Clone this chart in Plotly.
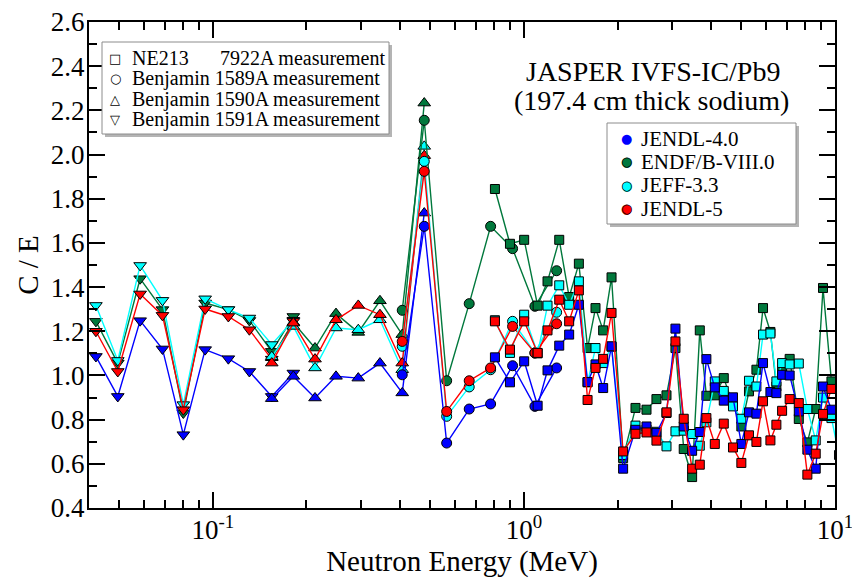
import plotly.graph_objects as go

# ---------------- data (C/E values) ----------------
libraries = ["JENDL-4.0", "ENDF/B-VIII.0", "JEFF-3.3", "JENDL-5"]
lib_colors = ["#0000ff", "#00783c", "#00ffff", "#ff0000"]

measurements = ["NE213      7922A measurement", "Benjamin 1589A measurement",
                "Benjamin 1590A measurement", "Benjamin 1591A measurement"]

# Benjamin 1591A (triangle-down)
e_1591 = [0.0421, 0.0495, 0.0584, 0.0689, 0.0804, 0.0945, 0.1122, 0.1311, 0.1547, 0.1815]
jendl4_1591 = [1.086, 0.905, 1.248, 1.120, 0.732, 1.117, 1.076, 1.018, 0.905, 1.011]
endf_1591 = [1.245, 1.056, 1.438, 1.298, 0.830, 1.328, 1.298, 1.249, 1.109, 1.267]
jeff_1591 = [1.317, 1.068, 1.498, 1.340, 0.868, 1.347, 1.298, 1.260, 1.140, 1.250]
jendl5_1591 = [1.200, 1.018, 1.369, 1.272, 0.845, 1.301, 1.267, 1.207, 1.074, 1.245]

# Benjamin 1590A (triangle-up)
e_1590 = [0.1547, 0.1815, 0.2131, 0.2489, 0.2935, 0.3446, 0.4064, 0.4783]
jendl4_1590 = [0.895, 0.996, 0.898, 0.996, 0.988, 1.056, 0.921, 1.735]
endf_1590 = [1.080, 1.240, 1.124, 1.280, 1.195, 1.338, 1.185, 2.233]
jeff_1590 = [1.085, 1.222, 1.034, 1.215, 1.207, 1.252, 1.026, 2.037]
jendl5_1590 = [1.056, 1.237, 1.074, 1.252, 1.317, 1.275, 1.056, 1.995]

# Benjamin 1589A (circle)
e_1589 = [0.4064, 0.4783, 0.5646, 0.6671, 0.7816, 0.9197, 1.085, 1.274]
jendl4_1589 = [1.003, 1.675, 0.694, 0.848, 0.871, 1.044, 0.860, 1.034]
endf_1589 = [1.295, 2.155, 0.976, 1.325, 1.675, 1.574, 1.313, 1.474]
jeff_1589 = [1.132, 1.969, 0.815, 0.948, 1.026, 1.245, 1.102, 1.286]
jendl5_1589 = [1.154, 1.924, 0.837, 0.976, 1.034, 1.222, 1.102, 1.234]

# NE213 7922A (square)
e_7922 = [0.807, 0.902, 1.002, 1.107, 1.191, 1.299, 1.398, 1.502, 1.602, 1.699,
          1.798, 1.913, 2.084, 2.284, 2.478, 2.667, 2.873, 3.07, 3.264, 3.473,
          3.676, 3.86, 4.108, 4.39, 4.70, 5.00, 5.29, 5.59, 5.87, 6.20,
          6.48, 6.76, 7.15, 7.65, 8.15, 8.67, 9.15, 9.74, 10.3]
jendl4_7922 = [1.082, 0.969, 1.064, 0.863, 1.023, 1.135, 1.185, 1.320, 0.970, 1.050,
               0.943, 1.132, 0.578, 0.754, 0.769, 0.740, 0.830, 1.212, 0.769, 0.659,
               0.744, 1.074, 0.946, 0.886, 0.901, 0.690, 0.833, 0.827, 1.056, 0.925,
               0.920, 1.003, 1.000, 0.837, 0.664, 0.578, 0.950, 0.845, None]
endf_7922 = [1.844, 1.596, 1.614, 1.316, 1.426, 1.614, 1.355, 1.506, 1.124, 1.305,
             1.204, 1.444, 0.626, 0.853, 0.845, 0.893, 0.910, 1.124, 0.667, 0.540,
             1.204, 0.908, 0.910, 0.988, 0.868, 0.769, 0.928, 1.026, 1.305, 1.197,
             0.950, 1.020, 1.075, 0.803, 0.697, 0.848, 1.396, 0.973, None]
jeff_7922 = [1.250, 1.102, 1.275, 1.100, 1.316, 1.408, 1.320, 1.426, 0.969, 1.124,
             1.056, 1.130, 0.640, 0.773, 0.755, 0.745, 0.679, 0.747, 0.750, 0.735,
             0.682, 0.788, 0.973, 0.930, 0.860, 0.804, 0.976, 0.950, 1.185, 1.190,
             0.973, 1.056, 1.050, 1.054, 0.848, 0.706, 0.900, 0.807, 0.640]
jendl5_7922 = [1.245, 1.117, 1.245, 1.102, 1.204, 1.343, 1.245, 1.385, 0.889, 1.034,
               1.075, 1.283, 0.656, 0.736, 0.742, 0.705, 0.833, 1.154, 0.804, 0.578,
               0.596, 0.807, 0.690, 0.782, 0.674, 0.604, 0.729, 0.699, 0.883, 0.706,
               0.777, 0.840, 0.893, 0.875, 0.551, 0.646, 0.826, 0.939, None]

x_tick_vals = [0.1, 1, 10]
x_tick_text = ["10<sup>-1</sup>", "10<sup>0</sup>", "10<sup>1</sup>"]
x_minor_vals = [0.05, 0.06, 0.07, 0.08, 0.09, 0.2, 0.3, 0.4, 0.5, 0.6, 0.7, 0.8, 0.9,
                2, 3, 4, 5, 6, 7, 8, 9]
y_tick_vals = [0.4, 0.6, 0.8, 1.0, 1.2, 1.4, 1.6, 1.8, 2.0, 2.2, 2.4, 2.6]
y_tick_text = ["0.4", "0.6", "0.8", "1.0", "1.2", "1.4", "1.6", "1.8", "2.0", "2.2", "2.4", "2.6"]

groups = [
    ("triangle-down", 11, e_1591, [jendl4_1591, endf_1591, jeff_1591, jendl5_1591]),
    ("triangle-up", 11, e_1590, [jendl4_1590, endf_1590, jeff_1590, jendl5_1590]),
    ("circle", 10, e_1589, [jendl4_1589, endf_1589, jeff_1589, jendl5_1589]),
    ("square", 9, e_7922, [jendl4_7922, endf_7922, jeff_7922, jendl5_7922]),
]

draw_order = [1, 2, 0, 3]   # ENDF, JEFF, JENDL-4.0, JENDL-5

# ---------------- layout geometry ----------------
# the page body has an 8 px margin, so the figure is drawn 8 px right / down
OFF = 8
W, H = 860 - OFF, 580 - OFF
PLOT_L, PLOT_R, PLOT_T, PLOT_B = 89, 835, 22, 508      # screen pixels
ML, MR, MT = PLOT_L - OFF, 860 - PLOT_R, PLOT_T - OFF
MB = H - (PLOT_B - OFF)
PW, PH = PLOT_R - PLOT_L, PLOT_B - PLOT_T


def px(xs):
    return (xs - PLOT_L) / PW


def py(ys):
    return (PLOT_B - ys) / PH


SERIF = "Liberation Serif"

fig = go.Figure()
for symbol, size, xs, ylists in groups:
    for li in draw_order:
        fig.add_trace(go.Scatter(
            x=xs, y=ylists[li], mode="lines+markers",
            name=libraries[li], showlegend=False,
            line=dict(color=lib_colors[li], width=1.4),
            marker=dict(symbol=symbol, size=size, color=lib_colors[li],
                        line=dict(color="black", width=1)),
            connectgaps=False,
        ))

annotations = []
shapes = []

# title
annotations.append(dict(text="JASPER IVFS-IC/Pb9", x=px(653), y=py(72), xref="paper", yref="paper",
                        showarrow=False, xanchor="center", yanchor="middle",
                        font=dict(family=SERIF, size=28, color="black")))
annotations.append(dict(text="(197.4 cm thick sodium)", x=px(651), y=py(100), xref="paper", yref="paper",
                        showarrow=False, xanchor="center", yanchor="middle",
                        font=dict(family=SERIF, size=28, color="black")))


def legend_box(x0, y0, x1, y1):
    shapes.append(dict(type="rect", xref="paper", yref="paper",
                       x0=px(x0 + 3), x1=px(x1 + 3), y0=py(y1 + 3), y1=py(y0 + 3),
                       fillcolor="#b4b4b4", line=dict(width=0), layer="above"))
    shapes.append(dict(type="rect", xref="paper", yref="paper",
                       x0=px(x0), x1=px(x1), y0=py(y1), y1=py(y0),
                       fillcolor="white", line=dict(color="#8c8c8c", width=1), layer="above"))


# measurement legend
legend_box(102, 42, 389, 134)
meas_glyphs = ["\u25a1", "\u25cb", "\u25b3", "\u25bd"]
meas_rows = [58.5, 79, 99.5, 119.5]
LEG_FONT = 20
for g, row, label in zip(meas_glyphs, meas_rows, measurements):
    annotations.append(dict(text=g, x=px(115), y=py(row), xref="paper", yref="paper",
                            showarrow=False, xanchor="center", yanchor="middle",
                            font=dict(family="DejaVu Sans", size=13, color="black")))
    if label.startswith("NE213"):
        parts = label.split("      ")
        annotations.append(dict(text=parts[0], x=px(130), y=py(row), xref="paper", yref="paper",
                                showarrow=False, xanchor="left", yanchor="middle",
                                font=dict(family=SERIF, size=LEG_FONT, color="black")))
        annotations.append(dict(text=parts[1], x=px(218), y=py(row), xref="paper", yref="paper",
                                showarrow=False, xanchor="left", yanchor="middle",
                                font=dict(family=SERIF, size=LEG_FONT, color="black")))
    else:
        annotations.append(dict(text=label, x=px(130), y=py(row), xref="paper", yref="paper",
                                showarrow=False, xanchor="left", yanchor="middle",
                                font=dict(family=SERIF, size=LEG_FONT, color="black")))

# library legend
legend_box(607, 123, 796, 224)
lib_rows = [138.5, 161.5, 185, 208.5]
for li, row in enumerate(lib_rows):
    annotations.append(dict(text="\u25cf", x=px(626.5), y=py(row), xref="paper", yref="paper",
                            showarrow=False, xanchor="center", yanchor="middle",
                            font=dict(family="DejaVu Sans", size=13, color=lib_colors[li])))
    if li > 0:
        annotations.append(dict(text="\u25cb", x=px(626.5), y=py(row), xref="paper", yref="paper",
                                showarrow=False, xanchor="center", yanchor="middle",
                                font=dict(family="DejaVu Sans", size=13, color="black")))
    annotations.append(dict(text=libraries[li], x=px(639), y=py(row), xref="paper", yref="paper",
                            showarrow=False, xanchor="left", yanchor="middle",
                            font=dict(family=SERIF, size=21, color="black")))

axis_common = dict(showline=True, linecolor="black", linewidth=2, mirror="allticks",
                   ticks="inside", ticklen=16, tickwidth=1.5, tickcolor="black",
                   showgrid=False, zeroline=False, automargin=False,
                   ticklabeloverflow="allow",
                   tickfont=dict(family=SERIF, size=27, color="black"))

fig.update_layout(
    width=W, height=H,
    margin=dict(l=ML, r=MR, t=MT, b=MB),
    paper_bgcolor="white", plot_bgcolor="white",
    showlegend=False,
    xaxis=dict(type="log", range=[-1.39794, 1.0], tickvals=x_tick_vals, ticktext=x_tick_text,
               minor=dict(tickvals=x_minor_vals, ticks="inside", ticklen=8, tickwidth=1.5,
                          tickcolor="black", showgrid=False),
               ticklabelstandoff=-3,
               title=dict(text="Neutron Energy (MeV)", standoff=0,
                          font=dict(family=SERIF, size=29, color="black")),
               **axis_common),
    yaxis=dict(range=[0.4, 2.6], tickvals=y_tick_vals, ticktext=y_tick_text,
               minor=dict(dtick=0.1, tick0=0, ticks="inside", ticklen=8, tickwidth=1.5,
                          tickcolor="black", showgrid=False),
               ticklabelstandoff=-3,
               title=dict(text="C / E", standoff=4,
                          font=dict(family=SERIF, size=29, color="black")),
               **axis_common),
    annotations=annotations,
    shapes=shapes,
)

fig.write_html("out.html")
